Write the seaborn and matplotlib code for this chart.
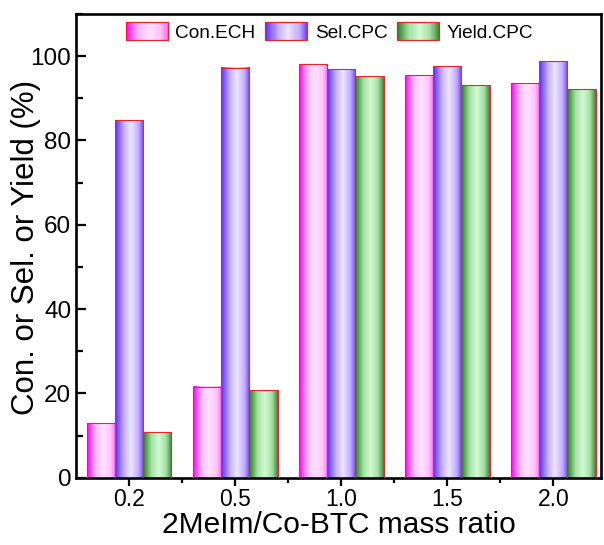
import numpy as np
import pandas as pd
import matplotlib
matplotlib.use("Agg")
import matplotlib.pyplot as plt
import seaborn as sns
from matplotlib.colors import LinearSegmentedColormap
from matplotlib.patches import Rectangle
from matplotlib.legend_handler import HandlerBase
from matplotlib.ticker import MultipleLocator, FixedLocator

# ---- data -------------------------------------------------------------
ratios = ["0.2", "0.5", "1.0", "1.5", "2.0"]
series = ["Con.ECH", "Sel.CPC", "Yield.CPC"]
con_ech = [12.9, 21.6, 98.1, 95.5, 93.6]
sel_cpc = [84.8, 97.3, 96.9, 97.7, 98.8]
yield_cpc = [10.9, 20.8, 95.2, 93.2, 92.2]

df = pd.DataFrame({
    "ratio": ratios * 3,
    "metric": [s for s in series for _ in ratios],
    "value": con_ech + sel_cpc + yield_cpc,
})

# horizontal shading for each series (dark edge -> light centre -> dark edge)
gradients = {
    "Con.ECH": LinearSegmentedColormap.from_list(
        "pink", [(0, "#ff00f0"), (0.3, "#ffb8ff"), (0.55, "#ffe2ff"),
                 (0.82, "#ffc4ff"), (1, "#ff66f4")]),
    "Sel.CPC": LinearSegmentedColormap.from_list(
        "violet", [(0, "#5a28ff"), (0.3, "#c2acff"), (0.55, "#eee6ff"),
                   (0.82, "#c0aaff"), (1, "#6c40f2")]),
    "Yield.CPC": LinearSegmentedColormap.from_list(
        "green", [(0, "#287828"), (0.3, "#a4e4a4"), (0.55, "#d2fad2"),
                  (0.8, "#a4dea4"), (1, "#358635")]),
}
edge_color = "#e5262a"

# ---- style ------------------------------------------------------------
sns.set_theme(style="ticks")
plt.rcParams["font.family"] = ["Liberation Sans", "DejaVu Sans"]
plt.rcParams.update({"text.color": "black", "axes.labelcolor": "black",
                     "xtick.color": "black", "ytick.color": "black"})

W, H = 604, 545
fig = plt.figure(figsize=(W / 100, H / 100), dpi=100)
ax = fig.add_axes([76 / W, 1 - 477.7 / H, (601 - 76) / W, (477.7 - 14) / H])

sns.barplot(data=df, x="ratio", y="value", hue="metric", order=ratios,
            hue_order=series, width=0.8, ax=ax, legend=False,
            edgecolor=edge_color, linewidth=0.8, saturation=1)

# replace flat fills with shaded images clipped to each bar
grad = np.linspace(0, 1, 256).reshape(1, -1)
for name, container in zip(series, ax.containers):
    for bar in container:
        x, y = bar.get_x(), bar.get_y()
        w, h = bar.get_width(), bar.get_height()
        bar.set_facecolor("none")
        bar.set_zorder(3)
        ax.imshow(grad, cmap=gradients[name], aspect="auto",
                  extent=[x, x + w, y, y + h], zorder=2,
                  interpolation="bilinear")

ax.set_xlim(-0.5, 4.45)
ax.set_ylim(0, 110)

# ---- axes -------------------------------------------------------------
for s in ax.spines.values():
    s.set_linewidth(1.9)
    s.set_color("black")

ax.yaxis.set_major_locator(MultipleLocator(20))
ax.yaxis.set_minor_locator(MultipleLocator(10))
ax.xaxis.set_minor_locator(FixedLocator([0.5, 1.5, 2.5, 3.5]))

# x ticks point down, y ticks point into the plot
ax.tick_params(axis="x", which="major", direction="out", length=6, width=1.6,
               labelsize=16.5, pad=1.5)
ax.tick_params(axis="x", which="minor", direction="out", length=3.5, width=1.6)
ax.tick_params(axis="y", which="major", direction="in", length=7.5, width=1.6,
               labelsize=17.5, pad=3.5)
ax.tick_params(axis="y", which="minor", direction="in", length=4.8, width=1.6)
ax.tick_params(top=False, right=False, which="both")

ax.set_xlabel("2MeIm/Co-BTC mass ratio", fontsize=21.5, labelpad=0)
ax.set_ylabel("Con. or Sel. or Yield (%)", fontsize=22.5)
ax.yaxis.set_label_coords(-0.066, 0.497)


# ---- legend with shaded swatches --------------------------------------
class Swatch:
    def __init__(self, cmap):
        self.cmap = cmap


class HandlerSwatch(HandlerBase):
    def create_artists(self, legend, orig_handle, xdescent, ydescent,
                       width, height, fontsize, trans):
        n = 40
        arts = []
        for i in range(n):
            r = Rectangle((-xdescent + width * i / n, -ydescent), width / n + 0.3,
                          height, facecolor=orig_handle.cmap((i + 0.5) / n),
                          edgecolor="none", transform=trans)
            arts.append(r)
        arts.append(Rectangle((-xdescent, -ydescent), width, height,
                              facecolor="none", edgecolor=edge_color,
                              linewidth=0.9, transform=trans))
        return arts


handles = [Swatch(gradients[s]) for s in series]
fig.legend(handles, series, handler_map={Swatch: HandlerSwatch()},
           loc="center", bbox_to_anchor=(329.5 / W, 1 - 32 / H),
           bbox_transform=fig.transFigure, ncol=3, frameon=False,
           fontsize=13.7, handlelength=2.2, handleheight=1.05,
           handletextpad=0.4, columnspacing=0.5, borderpad=0)

fig.savefig("out.png", dpi=100)
